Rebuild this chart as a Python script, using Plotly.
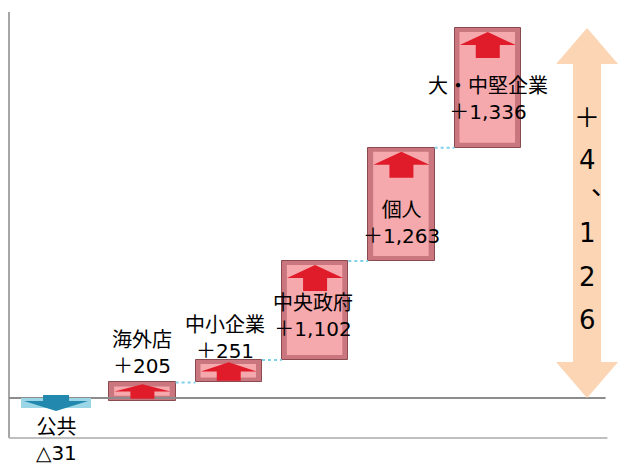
import plotly.graph_objects as go

# ---------------- data ----------------
categories = ["公共", "海外店", "中小企業", "中央政府", "個人", "大・中堅企業"]
values = [-31, 205, 251, 1102, 1263, 1336]
value_labels = ["△31", "＋205", "＋251", "＋1,102", "＋1,263", "＋1,336"]
total_chars = ["＋", "4", "、", "1", "2", "6"]

# ---------------- style ----------------
label_pos = ["below", "above", "above", "inside", "inside", "inside"]
label_yshift = [-39, 29, 22, -5, -19, -11]
label_xshift = [0, 0, -4, -2, 0, 0]
char_yshift = [95, 53, 27, -20, -64, -107]
char_xshift = [0, 0, 17, 0, 0, 0]

W, H = 619, 464
ML, MR, MT, MB = 9, 0, 12, 26
XR = [-0.545, 6.52]
YR = [-446, 4305]
UX = (XR[1] - XR[0]) / (W - ML - MR)   # data units per px (x)
UY = (YR[1] - YR[0]) / (H - MT - MB)   # data units per px (y)
BAR_W = 0.77
FONT = "DejaVu Sans, Noto Sans CJK JP, sans-serif"

total = sum(values)
bases, ends = [], []
c = 0
for v in values:
    bases.append(c)
    c += v
    ends.append(c)
xs = list(range(len(categories)))
total_x = len(categories) + 0.15

fig = go.Figure()
colors = ["#9ad6e6"] + ["#c9767e"] * (len(values) - 1)
line_colors = ["#9ad6e6"] + ["#8a4a50"] * (len(values) - 1)
fig.add_trace(go.Bar(
    x=xs, y=values, base=bases, width=BAR_W,
    marker=dict(color=colors, line=dict(color=line_colors, width=1)),
    hoverinfo="skip", showlegend=False,
))

shapes = []
# axis lines
shapes.append(dict(type="line", xref="paper", yref="paper", x0=0, x1=0, y0=0, y1=1,
                   line=dict(color="#a6a6a6", width=2)))
shapes.append(dict(type="line", xref="paper", yref="paper", x0=0, x1=0.981, y0=0, y1=0,
                   line=dict(color="#bfbfbf", width=2)))
shapes.append(dict(type="line", xref="paper", yref="y", x0=0, x1=0.978, y0=0, y1=0,
                   line=dict(color="#8c8c8c", width=2)))

# connectors
for i in range(1, len(values) - 1):
    shapes.append(dict(type="line", xref="x", yref="y",
                       x0=xs[i] + BAR_W / 2, x1=xs[i + 1] - BAR_W / 2,
                       y0=ends[i], y1=ends[i],
                       line=dict(color="#7fd0ea", width=2, dash="dot")))

# boxes inner bevel + arrows
for i, (b, e) in enumerate(zip(bases, ends)):
    xc = xs[i]
    if values[i] < 0:
        shapes.append(dict(type="rect", xref="x", yref="y", layer="above",
                           x0=xc - 35 * UX, x1=xc + 35 * UX, y0=0, y1=-10 * UY,
                           fillcolor="#9ad6e6", line=dict(width=0)))
        hw, sw = 32 * UX, 13 * UX
        y_top, y_hb, y_tip = 3 * UY, -3 * UY, -13 * UY
        path = (f"M{xc-sw},{y_top} L{xc+sw},{y_top} L{xc+sw},{y_hb} L{xc+hw},{y_hb} "
                f"L{xc},{y_tip} L{xc-hw},{y_hb} L{xc-sw},{y_hb} Z")
        shapes.append(dict(type="path", xref="x", yref="y", layer="above", path=path,
                           fillcolor="#2388ad", line=dict(width=0)))
        continue
    lo, hi = b, e
    shapes.append(dict(type="rect", xref="x", yref="y", layer="above",
                       x0=xc - BAR_W / 2 + 5 * UX, x1=xc + BAR_W / 2 - 6 * UX,
                       y0=lo + 5 * UY, y1=hi - 4 * UY,
                       fillcolor="#f5a9ad", line=dict(width=0)))
    box_px = (hi - lo) / UY
    a_h = min(26, box_px - 4)
    a_top = hi - min(4, box_px * 0.1) * UY
    a_hb = a_top - a_h * 0.5 * UY
    a_bot = a_top - a_h * UY
    hw, sw = 28 * UX, 12 * UX
    path = (f"M{xc-hw},{a_hb} L{xc},{a_top} L{xc+hw},{a_hb} L{xc+sw},{a_hb} "
            f"L{xc+sw},{a_bot} L{xc-sw},{a_bot} L{xc-sw},{a_hb} Z")
    shapes.append(dict(type="path", xref="x", yref="y", layer="above", path=path,
                       fillcolor="#e01b2a", line=dict(width=0)))

# total double arrow
hw, sw = 31 * UX, 14 * UX
hh = 36 * UY
tx = total_x
path = (f"M{tx},{total} L{tx+hw},{total-hh} L{tx+sw},{total-hh} L{tx+sw},{hh} "
        f"L{tx+hw},{hh} L{tx},0 L{tx-hw},{hh} L{tx-sw},{hh} L{tx-sw},{total-hh} "
        f"L{tx-hw},{total-hh} Z")
shapes.append(dict(type="path", xref="x", yref="y", layer="above", path=path,
                   fillcolor="#fcd5b4", line=dict(width=0)))

annotations = []
for i, cat in enumerate(categories):
    lo, hi = min(bases[i], ends[i]), max(bases[i], ends[i])
    if label_pos[i] == "below":
        yy = lo
    elif label_pos[i] == "above":
        yy = hi
    else:
        yy = (lo + hi) / 2
    annotations.append(dict(x=xs[i], y=yy, xref="x", yref="y",
                            text=f"{cat}<br>{value_labels[i]}", showarrow=False,
                            xanchor="center", yanchor="middle",
                            xshift=label_xshift[i], yshift=label_yshift[i],
                            font=dict(family=FONT, size=20, color="#000000")))
for k, ch in enumerate(total_chars):
    annotations.append(dict(x=total_x, y=total / 2, xref="x", yref="y", text=ch,
                            showarrow=False, xanchor="center", yanchor="middle",
                            xshift=char_xshift[k], yshift=char_yshift[k],
                            font=dict(family=FONT, size=26, color="#000000")))

fig.update_layout(
    width=W, height=H,
    margin=dict(l=ML, r=MR, t=MT, b=MB, pad=0),
    paper_bgcolor="#ffffff", plot_bgcolor="#ffffff",
    xaxis=dict(range=XR, showgrid=False, zeroline=False, showline=False,
               showticklabels=False, ticks="", fixedrange=True),
    yaxis=dict(range=YR, showgrid=False, zeroline=False, showline=False,
               showticklabels=False, ticks="", fixedrange=True),
    shapes=shapes, annotations=annotations,
    showlegend=False, bargap=0,
)

fig.write_html("out.html", config={"displayModeBar": False})
